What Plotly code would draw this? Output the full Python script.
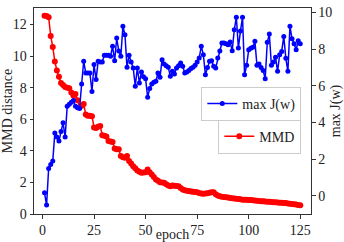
import plotly.graph_objects as go

epochs = list(range(1, 126))

mmd = [12.56, 12.55, 12.47, 11.28, 10.58, 9.66, 9.09, 8.7, 8.3, 8.18,
       8.05, 8.0, 7.97, 7.7, 7.5, 7.6, 7.2, 6.76, 6.85, 6.97,
       6.3, 6.22, 6.22, 6.2, 5.48, 5.45, 5.52, 5.58, 4.99, 4.95,
       4.91, 4.63, 4.6, 4.56, 4.15, 4.1, 4.1, 3.67, 3.6, 3.57,
       3.67, 3.35, 3.2, 3.03, 2.9, 2.75, 2.68, 2.61, 2.63, 2.65,
       2.82, 2.65, 2.5, 2.35, 2.19, 2.1, 2.01, 1.99, 1.98, 1.88,
       1.8, 1.76, 1.8, 1.79, 1.77, 1.76, 1.65, 1.55, 1.5, 1.48,
       1.45, 1.43, 1.41, 1.39, 1.37, 1.33, 1.3, 1.29, 1.3, 1.32,
       1.34, 1.37, 1.38, 1.25, 1.17, 1.13, 1.1, 1.08, 1.06, 1.04,
       1.02, 1.0, 0.98, 0.96, 0.95, 0.93, 0.91, 0.9, 0.9, 0.89,
       0.88, 0.87, 0.86, 0.84, 0.82, 0.81, 0.8, 0.79, 0.78, 0.77,
       0.76, 0.75, 0.74, 0.73, 0.72, 0.71, 0.7, 0.69, 0.67, 0.65,
       0.64, 0.62, 0.6, 0.57, 0.55]

max_j = [0.16, -0.51, 1.49, 1.7, 1.89, 3.43, 3.2, 2.98, 3.5, 3.98,
         3.2, 4.89, 5.0, 5.1, 5.2, 4.89, 4.8, 4.76, 6.1, 7.34,
         6.7, 6.7, 6.7, 5.69, 7.16, 6.34, 7.34, 7.3, 7.3, 7.67,
         7.67, 7.67, 7.61, 8.16, 7.37, 8.61, 7.9, 7.61, 9.25, 8.79,
         7.01, 7.67, 7.3, 6.98, 5.98, 6.98, 6.16, 6.76, 6.5, 6.39,
         5.38, 5.85, 6.1, 6.2, 6.25, 6.7, 6.47, 7.43, 7.19, 7.1,
         7.01, 6.52, 6.79, 6.65, 6.98, 7.1, 7.25, 7.07, 6.7, 6.75,
         6.83, 6.94, 7.01, 7.12, 7.3, 7.52, 8.16, 7.7, 6.61, 7.0,
         7.34, 7.37, 7.07, 6.98, 7.52, 7.9, 8.34, 8.34, 8.3, 8.24,
         8.39, 7.92, 9.06, 9.74, 8.07, 9.0, 9.74, 6.61, 7.12, 7.97,
         8.05, 8.1, 8.43, 7.12, 7.19, 7.0, 6.83, 6.39, 8.38, 8.83,
         7.12, 7.3, 7.56, 6.79, 7.7, 7.88, 8.7, 7.5, 6.79, 9.25,
         8.57, 8.3, 7.97, 8.46, 8.3]

x_ticks = [0, 25, 50, 75, 100, 125]
left_ticks = [0, 2, 4, 6, 8, 10, 12]
right_ticks = [0, 2, 4, 6, 8, 10]

FONT = "Liberation Serif"
AX = "#333333"
TXT = "#222222"

fig = go.Figure()
fig.add_trace(go.Scatter(
    x=epochs, y=mmd, name="MMD", mode="lines+markers",
    line=dict(color="#ff0000", width=1.5),
    marker=dict(color="#ff0000", size=6, symbol="circle"),
    yaxis="y", legend="legend2"))
fig.add_trace(go.Scatter(
    x=epochs, y=max_j, name="max J(w)", mode="lines+markers",
    line=dict(color="#0000ff", width=1.5),
    marker=dict(color="#0000ff", size=5, symbol="circle"),
    yaxis="y2", legend="legend"))

common = dict(showline=True, linecolor=AX, linewidth=1, ticks="outside",
              ticklen=3.5, tickwidth=1, tickcolor=AX, showgrid=False,
              zeroline=False, automargin=False,
              tickfont=dict(family=FONT, size=14, color=TXT))

fig.update_layout(
    width=344, height=242,
    margin=dict(l=34, r=33, t=8, b=28),
    paper_bgcolor="white", plot_bgcolor="white",
    font=dict(family=FONT, size=14, color=TXT),
    showlegend=True,
    xaxis=dict(range=[-4.1, 130.2], tickvals=x_ticks, mirror=True,
               title=dict(text="epoch", standoff=0, font=dict(family=FONT, size=14, color=TXT)),
               **common),
    yaxis=dict(range=[0, 13.05], tickvals=left_ticks, mirror=True,
               title=dict(text="MMD distance", standoff=0, font=dict(family=FONT, size=14, color=TXT)),
               **common),
    yaxis2=dict(range=[-1.0, 10.25], tickvals=right_ticks, overlaying="y", side="right",
                title=dict(text="max J(w)", standoff=0, font=dict(family=FONT, size=14, color=TXT)),
                **common),
    legend=dict(x=0.965, y=0.535, xanchor="right", yanchor="middle",
                bgcolor="white", bordercolor="#cccccc", borderwidth=1,
                font=dict(family=FONT, size=14, color=TXT), itemwidth=30,
                tracegroupgap=0),
    legend2=dict(x=0.965, y=0.375, xanchor="right", yanchor="middle",
                 bgcolor="white", bordercolor="#cccccc", borderwidth=1,
                 font=dict(family=FONT, size=14, color=TXT), itemwidth=30,
                 tracegroupgap=0),
)

fig.write_html("out.html", config={"displayModeBar": False},
               post_script="document.body.style.margin='0px';document.body.style.overflow='hidden';")
